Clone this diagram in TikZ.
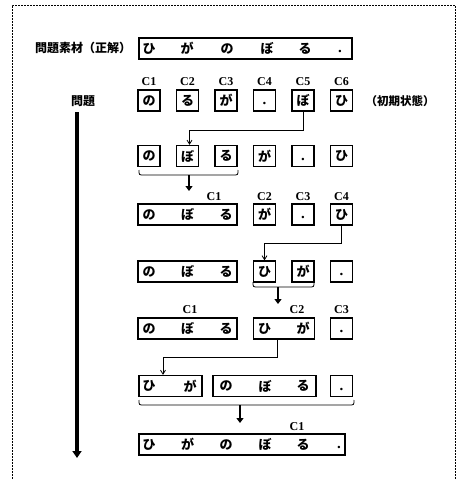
\documentclass[tikz,border=0pt]{standalone}
\usepackage{fontspec}
\setmainfont{Liberation Serif}
\newfontfamily\jp{Noto Sans CJK JP}
\usetikzlibrary{arrows.meta}
\begin{document}
\begin{tikzpicture}[x=1pt,y=-1pt,
 jpf/.style={font=\jp\bfseries\fontsize{13}{13}\selectfont},
 box/.style={draw, line width=1.3pt, minimum height=21pt, inner sep=0pt, jpf},
 sbox/.style={box, minimum width=22pt},
 ch/.style={inner sep=0pt, jpf},
 dot/.style={inner sep=0pt, font=\bfseries\fontsize{15}{15}\selectfont, yshift=-3pt},
 lab/.style={inner sep=0pt, font=\bfseries\fontsize{12}{12}\selectfont},
 conn/.style={line width=0.8pt, -{Straight Barb[length=4pt,width=5pt]}},
 thk/.style={line width=2pt, -{Triangle[length=5pt,width=7pt]}},
 brc/.style={line width=0.8pt},
 frame/.style={dash pattern=on 2pt off 1pt, line width=0.9pt}]
\useasboundingbox (0,0) rectangle (457,479);
\draw[frame] (12,479) -- (12,5) -- (455,5) -- (455,479);

% row 0
\node[ch, font=\jp\bfseries\fontsize{12}{12}\selectfont] (title) at (83,48) {問題素材（正解）};
\node[box, minimum width=213pt] (r0) at (245.5,48.5) {};
\node[ch] (r0a) at (149,48.5) {ひ};
\node[ch] (r0b) at (187,48.5) {が};
\node[ch] (r0c) at (227,48.5) {の};
\node[ch] (r0d) at (267,48.5) {ぼ};
\node[ch] (r0e) at (305,48.5) {る};
\node[dot] (r0f) at (340,48.5) {.};

% row 1
\node[lab] (l11) at (149,82) {C1};
\node[lab] (l12) at (187.5,82) {C2};
\node[lab] (l13) at (226,82) {C3};
\node[lab] (l14) at (264.5,82) {C4};
\node[lab] (l15) at (303,82) {C5};
\node[lab] (l16) at (341.5,82) {C6};
\node[sbox] (b11) at (149,100.5) {の};
\node[sbox] (b12) at (187.5,100.5) {る};
\node[sbox] (b13) at (226,100.5) {が};
\node[sbox] (b14) at (264.5,100.5) {};
\node[dot] (d14) at (264.5,100.5) {.};
\node[sbox] (b15) at (303,100.5) {ぼ};
\node[sbox] (b16) at (341.5,100.5) {ひ};
\node[ch, font=\jp\bfseries\fontsize{12}{12}\selectfont] (mondai) at (83,101) {問題};
\node[ch, font=\jp\bfseries\fontsize{11.5}{12}\selectfont] (init) at (400,101) {（初期状態）};
\coordinate (vtop) at (77,112);
\coordinate (vbot) at (77,458);
\draw[line width=3.2pt, -{Triangle[length=7pt,width=9pt]}] (vtop) -- (vbot);

% row 2
\node[sbox] (b21) at (149,156) {の};
\node[sbox] (b22) at (187.5,156) {ぼ};
\node[sbox] (b23) at (226,156) {る};
\node[sbox] (b24) at (264.5,156) {が};
\node[sbox] (b25) at (303,156) {};
\node[dot] (d25) at (303,156) {.};
\node[sbox] (b26) at (341.5,156) {ひ};
\draw[conn] (b15.south) -- ++(0,19) -| ([xshift=2pt]b22.north);
\draw[brc] (139,170) .. controls (139,175) .. (144,175) -- (233,175) .. controls (238,175) .. (238,170);
\coordinate (br2) at (189,175);
\coordinate (ar2) at (189,191);
\draw[thk] (br2) -- (ar2);

% row 3
\node[lab] (l31) at (214,197) {C1};
\node[lab] (l32) at (264.5,197) {C2};
\node[lab] (l33) at (303,197) {C3};
\node[lab] (l34) at (341.5,197) {C4};
\node[box, minimum width=99pt] (b31) at (187.5,214.5) {};
\node[ch] at (149,214.5) {の};
\node[ch] at (187.5,214.5) {ぼ};
\node[ch] at (226,214.5) {る};
\node[sbox] (b32) at (264.5,214.5) {が};
\node[sbox] (b33) at (303,214.5) {};
\node[dot] (d33) at (303,214.5) {.};
\node[sbox] (b34) at (341.5,214.5) {ひ};

% row 4
\node[box, minimum width=99pt] (b41) at (187.5,271.5) {};
\node[ch] at (149,271.5) {の};
\node[ch] at (187.5,271.5) {ぼ};
\node[ch] at (226,271.5) {る};
\node[sbox] (b42) at (264.5,271.5) {ひ};
\node[sbox] (b43) at (303,271.5) {が};
\node[sbox] (b44) at (341.5,271.5) {};
\node[dot] (d44) at (341.5,271.5) {.};
\draw[conn] (b34.south) -- ++(0,18) -| (b42.north);
\draw[brc] (253,282) .. controls (253,287) .. (258,287) -- (309,287) .. controls (314,287) .. (314,282);
\coordinate (br4) at (278,287);
\coordinate (ar4) at (278,304);
\draw[thk] (br4) -- (ar4);

% row 5
\node[lab] (l51) at (190,310) {C1};
\node[lab] (l52) at (297,310) {C2};
\node[lab] (l53) at (341.5,310) {C3};
\node[box, minimum width=99pt] (b51) at (187.5,328.5) {};
\node[ch] at (149,328.5) {の};
\node[ch] at (187.5,328.5) {ぼ};
\node[ch] at (226,328.5) {る};
\node[box, minimum width=61pt] (b52) at (283.75,328.5) {};
\node[ch] at (264.5,328.5) {ひ};
\node[ch] at (303,328.5) {が};
\node[sbox] (b53) at (341.5,328.5) {};
\node[dot] (d53) at (341.5,328.5) {.};

% row 6
\node[box, minimum width=63pt] (b61) at (170.5,386) {};
\node[ch] at (149,386) {ひ};
\node[ch] at (190,386) {が};
\node[box, minimum width=103pt] (b62) at (264.5,386) {};
\node[ch] at (226,386) {の};
\node[ch] at (265,386) {ぼ};
\node[ch] at (303,386) {る};
\node[sbox] (b63) at (341.5,386) {};
\node[dot] (d63) at (341.5,386) {.};
\draw[conn] ([xshift=-6pt]b52.south) -- ++(0,18) -| ([xshift=-7.5pt]b61.north);
\draw[brc] (139,400) .. controls (139,405) .. (144,405) -- (349,405) .. controls (354,405) .. (354,400);
\coordinate (br6) at (240,405);
\coordinate (ar6) at (240,423);
\draw[thk] (br6) -- (ar6);

% row 7
\node[lab] (l71) at (297,427) {C1};
\node[box, minimum width=206pt] (b71) at (242,444.5) {};
\node[ch] at (149,444.5) {ひ};
\node[ch] at (187.5,444.5) {が};
\node[ch] at (226,444.5) {の};
\node[ch] at (265,444.5) {ぼ};
\node[ch] at (303,444.5) {る};
\node[dot] at (339,444.5) {.};
\end{tikzpicture}
\end{document}
